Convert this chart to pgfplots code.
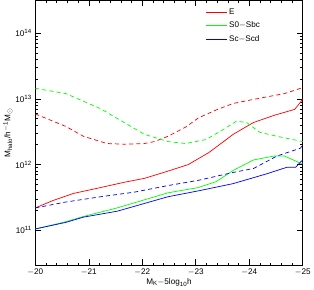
\documentclass[border=0pt]{standalone}
\usepackage{fontspec}
\setmainfont{Liberation Sans}
\usepackage{pgfplots}
\usepackage{pgfplotstable}
\pgfplotsset{compat=1.18}
\pgfplotstableread{
M lg
-20.00 12.77
-20.57 12.58
-20.90 12.43
-21.22 12.35
-21.34 12.32
-21.66 12.31
-22.04 12.32
-22.23 12.35
-22.48 12.43
-22.81 12.57
-23.05 12.71
-23.38 12.83
-23.70 12.93
-24.01 12.98
-24.33 13.03
-24.66 13.08
-24.96 13.16
-25.00 13.19
}\Edash
\pgfplotstableread{
M lg
-20.00 13.16
-20.57 13.08
-21.22 12.85
-21.66 12.64
-22.04 12.46
-22.48 12.35
-22.81 12.32
-23.19 12.38
-23.51 12.53
-23.76 12.66
-23.95 12.64
-24.20 12.49
-24.52 12.43
-25.00 12.35
}\Sdash
\pgfplotstableread{
M lg
-20.00 11.34
-20.32 11.45
-20.71 11.56
-21.22 11.65
-21.66 11.73
-22.04 11.79
-22.48 11.90
-22.86 12.00
-23.24 12.18
-23.57 12.38
-23.70 12.46
-24.08 12.64
-24.47 12.75
-24.85 12.84
-24.96 12.95
-25.00 13.00
}\Esol
\pgfplotstableread{
M lg
-20.00 11.34
-20.57 11.43
-21.22 11.51
-21.85 11.58
-22.48 11.68
-23.05 11.76
-23.70 11.88
-24.08 11.94
-24.52 12.13
-24.96 12.25
-25.00 12.30
}\Cdash
\pgfplotstableread{
M lg
-20.00 11.02
-20.57 11.13
-20.90 11.21
-21.53 11.34
-22.48 11.57
-23.05 11.65
-23.38 11.74
-23.70 11.91
-24.08 12.07
-24.47 12.13
-24.66 12.13
-24.96 12.02
-25.00 12.02
}\Ssol
\pgfplotstableread{
M lg
-20.00 11.02
-20.57 11.12
-20.90 11.20
-21.53 11.29
-22.48 11.51
-23.05 11.60
-23.70 11.71
-24.33 11.86
-24.71 11.96
-24.87 11.96
-24.96 12.04
-25.00 12.07
}\Csol
\begin{document}
\begin{tikzpicture}
\begin{axis}[
  scale only axis,
  width=262pt, height=260pt,
  x dir=reverse,
  xmin=-25, xmax=-20,
  ymode=log,
  ymin=2.9e10, ymax=3.16e14,
  xtick={-20,-21,-22,-23,-24,-25},
  xticklabels={$-$20,$-$21,$-$22,$-$23,$-$24,$-$25},
  minor x tick num=4,
  ytick={1e11,1e12,1e13,1e14},
  yticklabels={10\textsuperscript{11},10\textsuperscript{12},10\textsuperscript{13},10\textsuperscript{14}},
  tick align=inside,
  major tick length=6pt,
  minor tick length=3pt,
  tick style={black, line width=0.6pt},
  every tick label/.append style={font=\footnotesize},
  xlabel={M\textsubscript{K}$-$5log\textsubscript{10}h},
  ylabel={M\textsubscript{halo}/h\textsuperscript{$-$1}M\textsubscript{$\odot$}},
  label style={font=\footnotesize},
  xlabel style={yshift=4pt},
  ylabel style={yshift=-4pt},
  legend style={draw=none, fill=none, font=\footnotesize, at={(0.86,0.985)}, anchor=north east, row sep=2pt},
  legend cell align=left,
  legend image post style={xscale=1.2},
]
\addplot[red, line width=0.7pt] table[x=M, y expr=10^(\thisrow{lg})] {\Esol};
\addlegendentry{E}
\addplot[green, line width=0.7pt] table[x=M, y expr=10^(\thisrow{lg})] {\Ssol};
\addlegendentry{S0$-$Sbc}
\addplot[blue, line width=0.7pt] table[x=M, y expr=10^(\thisrow{lg})] {\Csol};
\addlegendentry{Sc$-$Scd}
\addplot[red, line width=0.7pt, dash pattern=on 4pt off 3pt, forget plot] table[x=M, y expr=10^(\thisrow{lg})] {\Edash};
\addplot[green, line width=0.7pt, dash pattern=on 4pt off 3pt, forget plot] table[x=M, y expr=10^(\thisrow{lg})] {\Sdash};
\addplot[blue, line width=0.7pt, dash pattern=on 4pt off 3pt, forget plot] table[x=M, y expr=10^(\thisrow{lg})] {\Cdash};
\end{axis}
\end{tikzpicture}
\end{document}
